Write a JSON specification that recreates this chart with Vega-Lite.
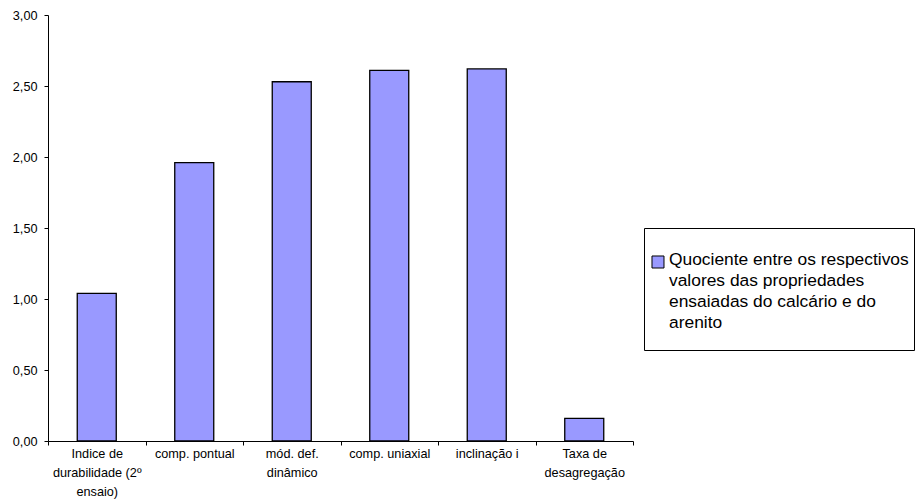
{
  "$schema": "https://vega.github.io/schema/vega-lite/v6.json",
  "width": 585,
  "height": 426,
  "autosize": "none",
  "padding": {"left": 48, "top": 15, "right": 284, "bottom": 60},
  "background": "white",
  "config": {
    "view": {"stroke": null},
    "font": "Liberation Sans",
    "style": {"guide-label": {"lineHeight": 21}}
  },
  "data": {
    "values": [
      {"categoria": "Indice de durabilidade (2º ensaio)", "valor": 1.04, "serie": "Quociente entre os respectivos valores das propriedades ensaiadas do calcário e do arenito"},
      {"categoria": "comp. pontual", "valor": 1.96, "serie": "Quociente entre os respectivos valores das propriedades ensaiadas do calcário e do arenito"},
      {"categoria": "mód. def. dinâmico", "valor": 2.53, "serie": "Quociente entre os respectivos valores das propriedades ensaiadas do calcário e do arenito"},
      {"categoria": "comp. uniaxial", "valor": 2.61, "serie": "Quociente entre os respectivos valores das propriedades ensaiadas do calcário e do arenito"},
      {"categoria": "inclinação i", "valor": 2.62, "serie": "Quociente entre os respectivos valores das propriedades ensaiadas do calcário e do arenito"},
      {"categoria": "Taxa de desagregação", "valor": 0.16, "serie": "Quociente entre os respectivos valores das propriedades ensaiadas do calcário e do arenito"}
    ]
  },
  "mark": {"type": "bar", "width": {"band": 0.4}, "stroke": "#000000", "strokeWidth": 1.3},
  "encoding": {
    "x": {
      "field": "categoria",
      "type": "nominal",
      "sort": null,
      "scale": {"paddingInner": 0, "paddingOuter": 0},
      "axis": {
        "title": null,
        "labelAngle": 0,
        "labelFontSize": 12.7,
        "labelColor": "#000000",
        "labelBaseline": "top",
        "labelLineHeight": 19,
        "labelPadding": 2,
        "labelLimit": 200,
        "tickBand": "extent",
        "tickSize": 4,
        "tickColor": "#000000",
        "domainColor": "#000000",
        "labelExpr": "datum.value == 'Indice de durabilidade (2º ensaio)' ? ['Indice de', 'durabilidade (2º', 'ensaio)'] : datum.value == 'mód. def. dinâmico' ? ['mód. def.', 'dinâmico'] : datum.value == 'Taxa de desagregação' ? ['Taxa de', 'desagregação'] : datum.label"
      }
    },
    "y": {
      "field": "valor",
      "type": "quantitative",
      "scale": {"domain": [0, 3], "nice": false},
      "axis": {
        "title": null,
        "grid": false,
        "values": [0, 0.5, 1, 1.5, 2, 2.5, 3],
        "labelExpr": "replace(format(datum.value, '.2f'), '.', ',')",
        "labelFontSize": 12.7,
        "labelColor": "#000000",
        "labelPadding": 7,
        "tickSize": 4,
        "tickColor": "#000000",
        "domainColor": "#000000"
      }
    },
    "color": {
      "field": "serie",
      "type": "nominal",
      "scale": {"range": ["#9999FF"]},
      "legend": {
        "title": null,
        "orient": "none",
        "legendX": 596,
        "legendY": 213,
        "strokeColor": "#000000",
        "fillColor": "#FFFFFF",
        "padding": 4.5,
        "symbolType": "M-0.829,0.314H-0.143V1H-0.829Z M-0.5,5.31L-0.5,5.31",
        "symbolSize": 1225,
        "symbolStrokeColor": "#000000",
        "symbolStrokeWidth": 1,
        "labelFontSize": 17.4,
        "labelColor": "#000000",
        "labelLimit": 400,
        "labelOffset": -15.5,
        "labelBaseline": "top",
        "labelExpr": "['Quociente entre os respectivos', 'valores das propriedades', 'ensaiadas do calcário e do', 'arenito']"
      }
    }
  }
}
